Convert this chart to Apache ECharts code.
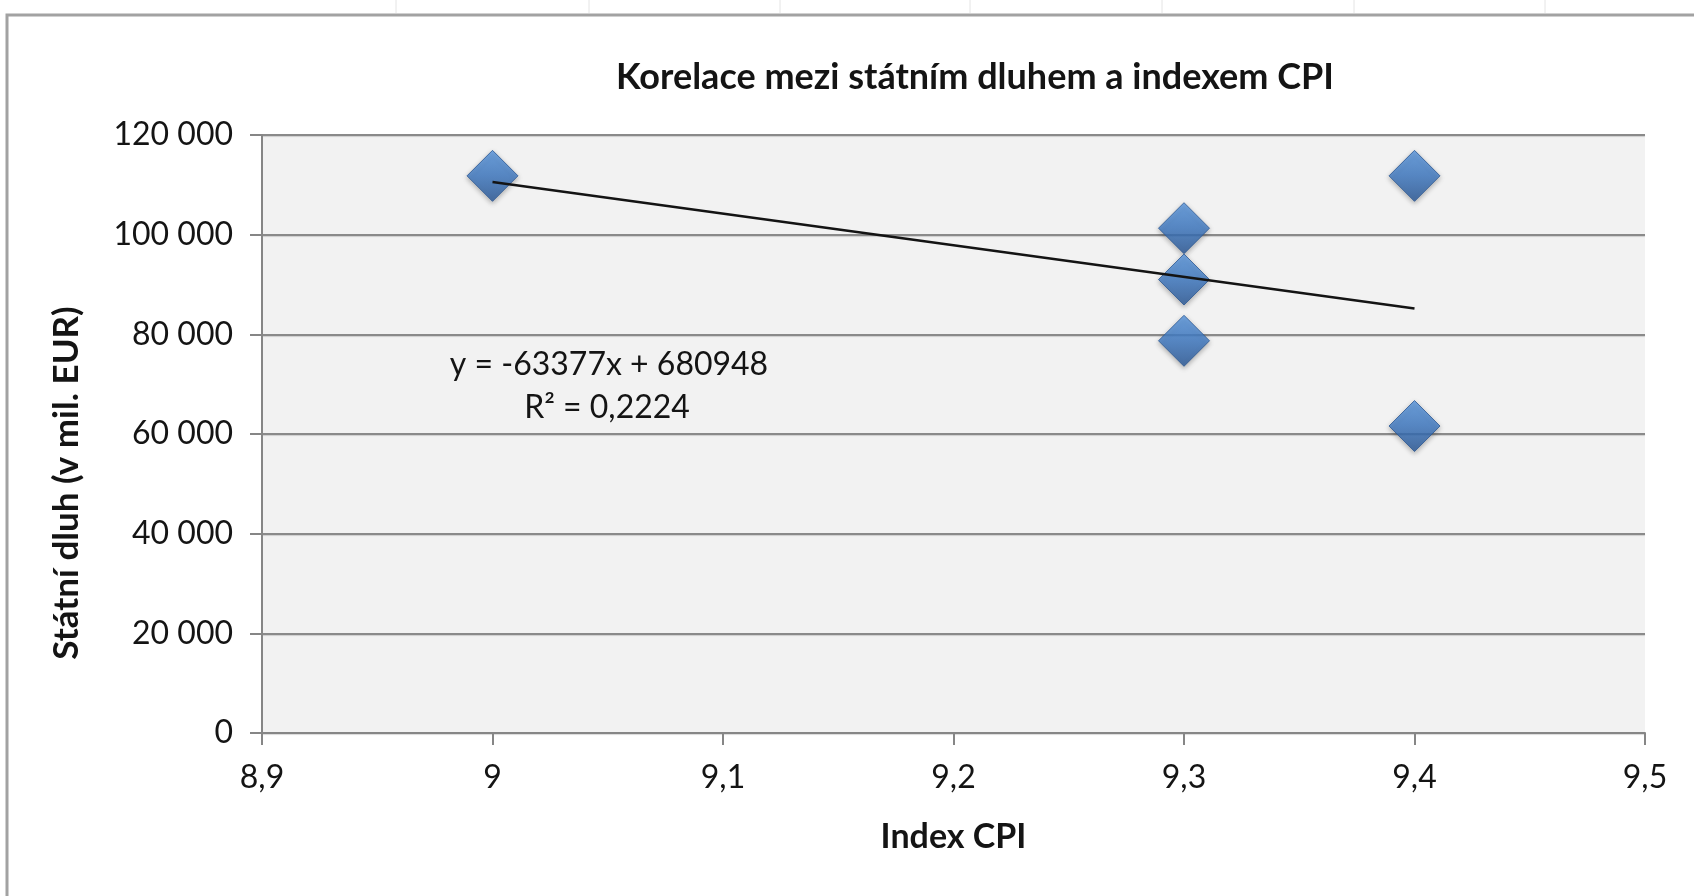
<!DOCTYPE html>
<html>
<head>
<meta charset="utf-8">
<script src="https://cdn.jsdelivr.net/npm/echarts@6/dist/echarts.min.js"></script>
<style>
html,body{margin:0;padding:0;background:#fff;}
#chart{width:1694px;height:896px;}
</style>
</head>
<body>
<div id="chart"></div>
<script>
// Data
const cpiIndex = [9.0, 9.3, 9.3, 9.3, 9.4, 9.4];
const statniDluh = [111800, 101300, 91000, 78700, 111800, 61600];
// Trendline coefficients (from the chart's equation label)
const trendSlope = -63377;
const trendIntercept = 680948;
const rSquared = '0,2224';
const xTicks = { min: 8.9, max: 9.5, interval: 0.1 };
const yTicks = { min: 0, max: 120000, interval: 20000 };
const chartTitle = 'Korelace mezi státním dluhem a indexem CPI';
const xName = 'Index CPI';
const yName = 'Státní dluh (v mil. EUR)';

const points = cpiIndex.map((x, i) => [x, statniDluh[i]]);
const xMinData = Math.min(...cpiIndex), xMaxData = Math.max(...cpiIndex);
const trendLine = [xMinData, xMaxData].map(x => [x, trendSlope * x + trendIntercept]);

const FONT = 'Lato';
const TXT = '#141414';

const chart = echarts.init(document.getElementById('chart'), null, {renderer: 'canvas'});

const fmtThousands = v => String(Math.round(v)).replace(/\B(?=(\d{3})+(?!\d))/g, ' ');
const fmtDec = v => String(Math.round(v * 10) / 10).replace('.', ',');

const sheetLines = [396, 589, 780, 970, 1162, 1354, 1545].map(x => ({
  type: 'line', shape: {x1: x, y1: 0, x2: x, y2: 13},
  style: {stroke: '#e4e4e4', lineWidth: 1}, silent: true
}));

chart.setOption({
  animation: false,
  backgroundColor: '#ffffff',
  title: {
    text: chartTitle,
    left: 970, textAlign: 'center', top: 54,
    textStyle: {fontFamily: FONT, fontWeight: 'bold', fontSize: 36, color: TXT}
  },
  grid: {left: 262, right: 49, top: 135, bottom: 163, show: true, backgroundColor: '#f2f2f2', borderWidth: 0},
  xAxis: {
    type: 'value',
    min: xTicks.min, max: xTicks.max, interval: xTicks.interval,
    name: xName, nameLocation: 'middle', nameGap: 87,
    nameTextStyle: {fontFamily: FONT, fontWeight: 'bold', fontSize: 34, color: TXT},
    axisLine: {show: true, onZero: false, lineStyle: {color: '#868686', width: 2}},
    axisTick: {show: true, length: 12, lineStyle: {color: '#868686', width: 2}},
    axisLabel: {margin: 29, fontFamily: FONT, fontSize: 32, color: TXT, formatter: fmtDec, showMinLabel: true, showMaxLabel: true},
    splitLine: {show: false}
  },
  yAxis: {
    type: 'value',
    min: yTicks.min, max: yTicks.max, interval: yTicks.interval,
    name: yName, nameLocation: 'middle', nameGap: 178, nameRotate: 90,
    nameTextStyle: {fontFamily: FONT, fontWeight: 'bold', fontSize: 35, color: TXT, padding: [0, 98, 0, 0]},
    axisLine: {show: true, lineStyle: {color: '#868686', width: 2}},
    axisTick: {show: true, length: 12, lineStyle: {color: '#868686', width: 2}},
    axisLabel: {margin: 29, fontFamily: FONT, fontSize: 32, color: TXT, formatter: fmtThousands},
    splitLine: {show: true, lineStyle: {color: '#8a8a8a', width: 2, shadowColor: 'rgba(0,0,0,0.15)', shadowOffsetY: 1, shadowBlur: 1}}
  },
  series: [
    {
      type: 'line',
      data: trendLine,
      symbol: 'none',
      lineStyle: {color: '#141414', width: 2.5},
      z: 3,
      silent: true
    },
    {
      type: 'scatter',
      data: points,
      symbol: 'diamond',
      symbolSize: 51,
      z: 2,
      itemStyle: {
        color: new echarts.graphic.LinearGradient(0, 0, 0, 1, [
          {offset: 0, color: '#5898e2'},
          {offset: 0.5, color: '#3f7bc6'},
          {offset: 1, color: '#295898'}
        ]),
        borderColor: '#2a5894',
        borderWidth: 1,
        shadowColor: 'rgba(0,0,0,0.35)',
        shadowBlur: 5,
        shadowOffsetY: 2
      }
    }
  ],
  graphic: [
    {
      type: 'rect', shape: {x: 7, y: 15, width: 1720, height: 920},
      style: {fill: 'none', stroke: '#a2a2a2', lineWidth: 3}, silent: true, z: -1
    },
    ...sheetLines,
    {
      type: 'text', x: 609, y: 365, z: 10,
      style: {text: 'y = ' + String(trendSlope) + 'x + ' + String(trendIntercept), fontFamily: FONT, fontSize: 32, fill: TXT, textAlign: 'center', textVerticalAlign: 'middle'}
    },
    {
      type: 'text', x: 607, y: 408, z: 10,
      style: {text: 'R² = ' + rSquared, fontFamily: FONT, fontSize: 32, fill: TXT, textAlign: 'center', textVerticalAlign: 'middle'}
    }
  ]
});
</script>
</body>
</html>
